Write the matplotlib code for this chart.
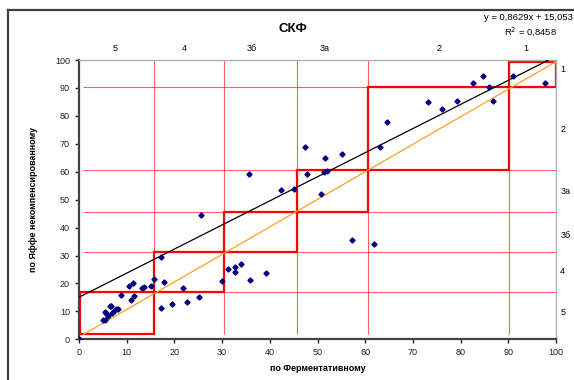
import matplotlib
matplotlib.use("Agg")
import matplotlib.pyplot as plt
from matplotlib.patches import Rectangle
from matplotlib.lines import Line2D
import numpy as np

plt.rcParams['font.family'] = ['Liberation Sans', 'DejaVu Sans']

# ---- data ----
ferm = [0, 5.1, 5.5, 5.4, 5.6, 6.0, 6.6, 6.8, 7.0, 7.3, 7.8, 8.2, 8.8, 10.5, 10.8,
        11.3, 11.6, 13.2, 13.7, 15.0, 15.7, 17.2, 17.2, 17.9, 19.4, 21.7, 22.6,
        25.2, 25.6, 30.0, 31.2, 32.7, 32.7, 34.0, 35.6, 35.8, 39.2, 42.3, 45.0,
        47.4, 47.8, 50.8, 51.4, 51.9, 51.6, 55.1, 57.2, 61.9, 63.1, 64.6, 73.2,
        76.0, 79.2, 82.5, 84.6, 86.0, 86.8, 91.0, 97.7]
jaffe = [0, 6.9, 6.9, 9.7, 9.3, 8.3, 11.9, 12.0, 9.5, 10.1, 10.7, 10.7, 15.7, 19.1, 14.1,
         20.3, 15.5, 18.3, 18.6, 19.1, 21.5, 11.3, 29.5, 20.6, 12.6, 18.4, 13.4,
         15.3, 44.5, 21.0, 25.3, 25.8, 24.0, 26.8, 59.1, 21.3, 23.9, 53.5, 53.9,
         68.7, 59.2, 52.0, 60.0, 60.1, 64.8, 66.3, 35.6, 34.1, 69.0, 77.9, 84.8,
         82.6, 85.3, 91.7, 94.4, 90.3, 85.4, 94.4, 91.7]

slope, intercept, r2 = 0.8629, 15.053, 0.8458

# stage thresholds (thin red lines) and stage boxes
vline_x = [15.8, 30.5, 45.8, 60.5, 90.1]
hline_y = [16.8, 31.2, 45.5, 60.7, 90.2]
box_lo_x = [0.3, 15.8, 30.5, 45.8, 60.5, 90.1]
box_hi_x = [15.8, 30.5, 45.8, 60.5, 90.1, 99.9]
box_lo_y = [1.8, 16.8, 31.2, 45.5, 60.7, 90.2]
box_hi_y = [16.8, 31.2, 45.5, 60.7, 90.2, 99.4]

ideal_x = [1, 100]
ideal_y = [1.8, 99.4]

stage_labels = ['5', '4', '3б', '3а', '2', '1']
stage_pos_x = [7.6, 22, 36.2, 51.4, 75.5, 93.7]
stage_pos_y = [9.9, 24.6, 37.7, 53.1, 75.3, 96.9]

# ---- figure ----
W, H = 574, 380
fig = plt.figure(figsize=(W / 100, H / 100), dpi=100)
fig.patch.set_facecolor('white')

# chart-area border (only left and top visible)
fig.add_artist(Line2D([8 / W, 8 / W], [0, 1 - 10 / H], color='#404040', lw=1.6,
                      transform=fig.transFigure))
fig.add_artist(Line2D([8 / W, 1], [1 - 10 / H, 1 - 10 / H], color='#404040', lw=1.6,
                      transform=fig.transFigure))

ax = fig.add_axes([79 / W, 1 - 339.3 / H, (556 - 79) / W, (339.3 - 60) / H])
ax.set_xlim(0, 100)
ax.set_ylim(0, 100)

# thin threshold lines
ax.vlines(vline_x, 2, 100, colors='#ff2a2a', lw=0.8, alpha=0.75, zorder=1)
ax.hlines(hline_y, 0.8, 100, colors='#ff2a2a', lw=0.8, alpha=0.75, zorder=1)

# stage boxes
for x0, x1, y0, y1 in zip(box_lo_x, box_hi_x, box_lo_y, box_hi_y):
    ax.add_patch(Rectangle((x0, y0), x1 - x0, y1 - y0, fill=False,
                           edgecolor='#ff0000', lw=1.6, zorder=2))

# ideal line and trend line
ax.plot(ideal_x, ideal_y, color='#ffa020', lw=0.9, zorder=3)
xt = np.array([0, (100 - intercept) / slope])
ax.plot(xt, slope * xt + intercept, color='black', lw=0.9, zorder=3)

ax.plot(ferm, jaffe, 'D', color='#000080', ms=2.6, zorder=4)

# axes styling
ax.set_xticks(range(0, 101, 10))
ax.set_yticks(range(0, 101, 10))
ax.tick_params(labelsize=6.5, length=3, width=1, direction='out', colors='#222222')
for s in ['left', 'bottom']:
    ax.spines[s].set_color('#444444')
    ax.spines[s].set_linewidth(1.6)
for s in ['top', 'right']:
    ax.spines[s].set_color('#b0b0b0')
    ax.spines[s].set_linewidth(1)

ax.set_xlabel('по Ферментативному', fontsize=6.5, fontweight='bold', labelpad=5)
ax.set_ylabel('по Яффе некомпенсированному', fontsize=6.5, fontweight='bold', labelpad=12)

# stage labels on top and right
top = ax.secondary_xaxis('top')
top.set_xticks(stage_pos_x, stage_labels)
top.tick_params(length=0, labelsize=6.5, pad=5)
top.spines['top'].set_visible(False)
right = ax.secondary_yaxis('right')
right.set_yticks(stage_pos_y, stage_labels)
right.tick_params(length=0, labelsize=6.5, pad=3)
right.spines['right'].set_visible(False)

fig.text(293 / W, 1 - 29 / H, 'СКФ', fontsize=9.5, fontweight='bold',
         ha='center', va='center')
fig.text(528 / W, 1 - 17 / H, 'y = 0,8629x + 15,053', fontsize=6.8,
         ha='center', va='center')
fig.text(530 / W, 1 - 32 / H, 'R$^2$ = 0,8458', fontsize=6.8,
         ha='center', va='center')

fig.savefig('out.png', dpi=100)
